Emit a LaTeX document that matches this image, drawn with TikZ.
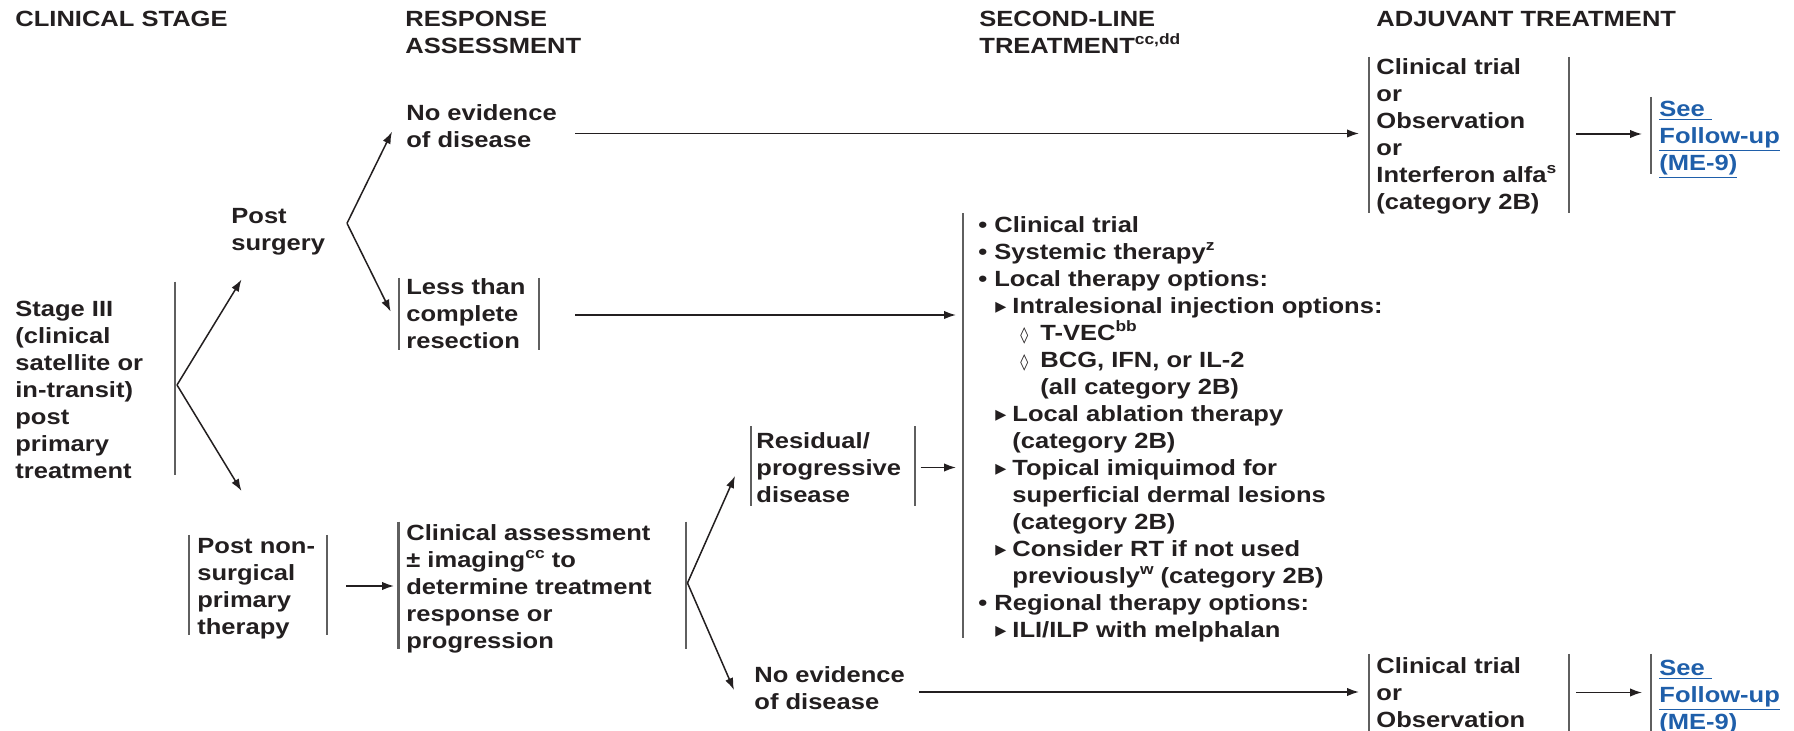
\documentclass[tikz,border=0pt]{standalone}
\usepackage{fontspec}
\setmainfont{Liberation Sans}[FakeStretch=1.16]
\newfontfamily\symfont{DejaVu Sans}
\usetikzlibrary{arrows.meta}
\definecolor{ink}{RGB}{35,31,32}
\definecolor{barc}{RGB}{95,95,95}
\definecolor{linkc}{RGB}{31,95,170}
\newcommand\fs{\rule{0pt}{8.25pt}}
\newcommand\sups[1]{\raisebox{0.4em}{\fontsize{7.5}{8}\selectfont #1}}
\newcommand\tri{{\symfont\fontsize{11}{11}\selectfont ▸}}
\newcommand\dia{{\symfont\fontsize{8}{9}\selectfont ◊}}
\newcommand\lvA[1]{\makebox[8pt][l]{•}#1}
\newcommand\lvB[1]{\hspace*{8.5pt}\makebox[8.5pt][l]{\tri}#1}
\newcommand\lvBc[1]{\hspace*{17pt}#1}
\newcommand\lvC[1]{\hspace*{21pt}\makebox[10pt][l]{\dia}#1}
\newcommand\lvCc[1]{\hspace*{31pt}#1}
\newcommand\lnk[1]{\underline{#1}}
\tikzset{
  txt/.style={anchor=north west, inner sep=0pt, align=left, text=ink,
    font=\fontsize{11}{13.5}\selectfont\bfseries},
  lnktxt/.style={txt, text=linkc},
  vbar/.style={draw=barc, line width=1.1pt},
  arr/.style={draw=ink, line width=0.75pt, -{Latex[length=6pt,width=4.2pt]}}
}
\begin{document}
\begin{tikzpicture}[x=0.5pt,y=-0.5pt]
\useasboundingbox (0,0) rectangle (1794,731);
\clip (0,0) rectangle (1794,731);
\fill[white] (0,0) rectangle (1794,731);

% headers
\node[txt] (hstage) at (15,9.5) {\fs CLINICAL STAGE};
\node[txt] (hresp) at (405,9.5) {\fs RESPONSE\\ASSESSMENT};
\node[txt] (hsecond) at (979,9.5) {\fs SECOND-LINE\\TREATMENT\sups{cc,dd}};
\node[txt] (hadj) at (1376,9.5) {\fs ADJUVANT TREATMENT};

% text blocks
\node[txt] (stage) at (15,299.5) {\fs Stage III\\(clinical\\satellite or\\in-transit)\\post\\primary\\treatment};
\node[txt] (postsurg) at (231,206.8) {\fs Post\\surgery};
\node[txt] (ned1) at (406,103.5) {\fs No evidence\\of disease};
\node[txt] (ltc) at (406,277.5) {\fs Less than\\complete\\resection};
\node[txt] (postns) at (197,536.5) {\fs Post non-\\surgical\\primary\\therapy};
\node[txt] (clinas) at (406,523.5) {\fs Clinical assessment\\± imaging\sups{cc} to\\determine treatment\\response or\\progression};
\node[txt] (resid) at (756,431.5) {\fs Residual/\\progressive\\disease};
\node[txt] (ned2) at (754,665.5) {\fs No evidence\\of disease};
\node[txt] (list) at (978,215.8) {\fs\lvA{Clinical trial}\\
\lvA{Systemic therapy\sups{z}}\\
\lvA{Local therapy options:}\\
\lvB{Intralesional injection options:}\\
\lvC{T-VEC\sups{bb}}\\
\lvC{BCG, IFN, or IL-2}\\
\lvCc{(all category 2B)}\\
\lvB{Local ablation therapy}\\
\lvBc{(category 2B)}\\
\lvB{Topical imiquimod for}\\
\lvBc{superficial dermal lesions}\\
\lvBc{(category 2B)}\\
\lvB{Consider RT if not used}\\
\lvBc{previously\sups{w} (category 2B)}\\
\lvA{Regional therapy options:}\\
\lvB{ILI/ILP with melphalan}};
\node[txt] (adj1) at (1376,57.5) {\fs Clinical trial\\or\\Observation\\or\\Interferon alfa\sups{s}\\(category 2B)};
\node[lnktxt] (see1) at (1659,99.5) {\fs\lnk{See\ }\\\lnk{Follow-up}\\\lnk{(ME-9)}};
\node[txt] (adj2) at (1376,656.8) {\fs Clinical trial\\or\\Observation};
\node[lnktxt] (see2) at (1659,658.5) {\fs\lnk{See\ }\\\lnk{Follow-up}\\\lnk{(ME-9)}};

% bars
\draw[vbar] (175,281.7) -- (175,475);
\draw[vbar] (399.3,278) -- (399.3,350);
\draw[vbar] (539.3,278) -- (539.3,350);
\draw[vbar] (189,535) -- (189,635);
\draw[vbar] (327,535) -- (327,635);
\draw[vbar] (398.5,521.7) -- (398.5,649);
\draw[vbar] (686,521.7) -- (686,649);
\draw[vbar] (751,426.5) -- (751,506);
\draw[vbar] (915,426.5) -- (915,506);
\draw[vbar] (963.3,213.3) -- (963.3,638.3);
\draw[vbar] (1369,57) -- (1369,213);
\draw[vbar] (1569,57) -- (1569,213);
\draw[vbar] (1651,97) -- (1651,174);
\draw[vbar] (1369,654) -- (1369,740);
\draw[vbar] (1569,654) -- (1569,740);
\draw[vbar] (1651,654) -- (1651,740);

% connector points
\coordinate (stageV) at (177,385);
\coordinate (tPS) at (241.5,279.5);
\coordinate (tPNS) at (241.5,491);
\coordinate (psV) at (347,223.3);
\coordinate (tNED1) at (392,131.7);
\coordinate (tLTC) at (390.7,311.7);
\coordinate (caV) at (687.5,583);
\coordinate (tRES) at (735,476);
\coordinate (tNED2) at (734,690);
\coordinate (ned1R) at (575,133.5);
\coordinate (adj1In) at (1359,133.5);
\coordinate (ltcR) at (575,315);
\coordinate (listIn1) at (956,315);
\coordinate (resR) at (920.5,467.5);
\coordinate (listIn2) at (956,467.5);
\coordinate (pnsR) at (346,586);
\coordinate (caIn) at (394,586);
\coordinate (ned2R) at (919,692);
\coordinate (adj2In) at (1359,692);
\coordinate (adj1R) at (1576,134);
\coordinate (see1In) at (1642,134);
\coordinate (adj2R) at (1576,692.5);
\coordinate (see2In) at (1642,692.5);

% connectors
\draw[arr] (stageV) -- (tPS);
\draw[arr] (stageV) -- (tPNS);
\draw[arr] (psV) -- (tNED1);
\draw[arr] (psV) -- (tLTC);
\draw[arr] (caV) -- (tRES);
\draw[arr] (caV) -- (tNED2);
\draw[arr] (ned1R) -- (adj1In);
\draw[arr] (ltcR) -- (listIn1);
\draw[arr] (resR) -- (listIn2);
\draw[arr] (pnsR) -- (caIn);
\draw[arr] (ned2R) -- (adj2In);
\draw[arr] (adj1R) -- (see1In);
\draw[arr] (adj2R) -- (see2In);
\end{tikzpicture}
\end{document}
